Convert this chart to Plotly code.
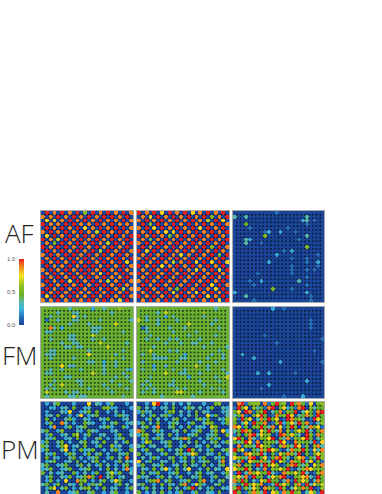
import numpy as np
import plotly.graph_objects as go

# Values are digit/9.
af_1 = """090809080905090809080908 808090809080908090908090 070708090809080908080908 908080909080809080908080
090809080907080908090908 809080908090806090809080 070908090809080908090809 908060908090809080908090
080509080908090806090809 908090908090809080908090 090809080908090609080908 809080909080908090809080
080908090809080908090809 908090809080908090809070 090808090809090809080908 809080908090908090809080
080908090809080709080908 908090809080908090808090 090809070908090806080908 809080908090809090809080
090809080908090809080608 908090809080809080908090 070908090808090809080908 808090809080908090807090""".split()
af_2 = """908090709080907080908090 080709080908090809050809 809080908090809080609070 090509080908090809080908
809070908090809070908090 080908070709080908090809 908090805080908090809080 080508090809080908090809
809080908090809080908090 090809080908090809050908 907090809080908090809080 080908090807080908090509
809080908090809080908090 090809080608090709070907 908090708090809080908090 080908090809080708090709
908090809080908090809080 080908090809080908090809 809080908090809080908090 090809080908090809070908
809080908050908090807090 080908090709080708090809 908090809080908090708090 080908090809080908090709""".split()
af_3 = """000000000001000000000000 300300000000000000030000 000000000000000000230100 000400000000000000010000
000010000000001000000000 000000001200200010000000 000000005000000000030000 000320000000000001000000
000300010000000000000000 000000000000000000050000 000000000000010200000000 000000000002000000000010
000000000000000100010000 000000000200000000010020 000000000000000100000010 000000000000000100010100
000000100000000100000000 000000000000000000010000 000010020000000003000000 000001000000000000010000
000000000050000100000000 200000000000000000020000 000300000000000000001000 000001000000000000001000""".split()
fm_1 = """444444434444424434445444 444434443344444444344444 443444447343444444444444 414434443344444344444443
444444434444344444464444 448342444444433344444444 433444444444433444444344 444444433444464444444444
443444433444434434444444 444443443344444644444434 444444334334444446444444 443344444444344444444344
433344444444744444434444 443444443444444444544344 444444444444334424434444 444447433444444434434444
443443444434444434444432 433444444444464434444344 444444334444444444434434 444344444334444444344443
443446444434444434443444 434344444444344443444434 464444343344444444344444 434444433433444444444344""".split()
fm_2 = """444444444444444444443444 444443464444444445444444 443444424344444443444444 643443444434444444443444
444443444444464444434444 413444443444344444444344 443444444344444344444444 444344444544434444443444
443443443434444434444444 444444434443443344434444 444434444444444443444443 444644443434444444444344
434434444444244444434434 444433334443344444344434 434444444434444434443444 444424434444444644344444
434434444344344444344434 444444464443344434444443 444344444444424444443446 443444444344444434444344
434344443344444443444444 443434444434344444434344 434434444466444434444434 444444344444443444444444""".split()
fm_3 = """000000000020010000000000 000000000000000000000000 000000000000000000000000 000000000000000000001000
000000000000000000001000 000000000000000000001000 000000000000000000000000 000000001000000000000000
000000000000000000000001 000000000001000000000000 000000000000000000000000 000000000000000000000100
002000000000000000000000 000002000000000000000000 000000000000200000000001 000000000000000000000000
000000000000000000000000 000000200200000010000000 000000000000000000000000 000000000000000000020000
000000000200000000000000 000000010000000000000000 000000000000000000000000 000000000000010000200000""".split()
pm_1 = """020340002000703202400020 002202304002300045220002 020003270023404002030200 023040020270234000024320
040200342003200324000230 024008302004320020340023 002800240234000234200420 340025000320432000230002
024002304602400230024003 032400230402003402023400 240034020034023040030240 430024702304002400523002
240003702042340020342004 032400243002403402003240 040320034020234002403080 023400230402034020024032
340023400240302403020340 234002340023400204030282 403023004203024003624003 024003240234840903402300
024020700845020340374002 340240032040243500024030 024703402034502040230024 030080023400340020340020""".split()
pm_2 = """002079020302030002004500 403020230400243030240032 242300024503020403200023 030240342002030400724003
002403020340200342400325 240304002430024003540024 034028003402040232064000 840034200230402340035072
245002304020023400234004 034024300234840020342400 026400234002030402034024 340230024002400320403200
024003402034095030240034 402300240034237400320402 030242003402403024003240 702400320402304023400380
240032400230403204020340 032040372040370020403207 040324002340020340230024 423002403024003240024003
002458034002340048020340 340020403204802742003400 024030204030249030240032 402030402024002400320400""".split()
pm_3 = """089145508149450948417045 194705341890472418905344 470981459034815490374189 348104794018459703484194
519470384947019845301974 403719448015924739481035 871404594380714940538471 349850174943805147493048
140489374501984743095184 794083154790438154794035 435971804543971085443917 081543975410584397140583
947104385974103845941738 401874593041748539041475 754389047148953047814395 139075484390741854937041
580441939475014894350748 744950318054749103587454 190385744931085474930158 573819440374891045783194
849403175944038194750384 314947580139474058193746 591537408541950374849015 940148539075184945037419""".split()

panels = [af_1, af_2, af_3, fm_1, fm_2, fm_3, pm_1, pm_2, pm_3]
row_labels = ["AF", "FM", "PM"]
bar_ticks = [0.0, 0.5, 1.0]
bar_tick_labels = ["0.0", "0.5", "1.0"]

W, H = 382, 494
col_x = [(41, 133), (137, 229), (233, 324)]
row_y = [(211, 302), (307, 398), (402, 494)]
label_y = [233, 355, 449]

scale = [[0, "#1b4598"], [0.1, "#2468b4"], [0.25, "#3db7de"], [0.36, "#5fb79c"],
         [0.45, "#6cb12a"], [0.6, "#93c022"], [0.75, "#f7e61c"], [0.88, "#f58a1f"], [1, "#e4201f"]]

fig = go.Figure()
n = 24
dot_x, dot_y = np.meshgrid(np.arange(0.5, n - 1), np.arange(0.5, n - 1))
for k, rows in enumerate(panels):
    for row in rows:
        if len(row) != n:
            raise ValueError(f"panel {k}: {row} has length {len(row)}")
    z = [[int(ch) / 9 for ch in row] for row in rows]
    s = "" if k == 0 else str(k + 1)
    fig.add_trace(go.Heatmap(z=z, coloraxis="coloraxis", xaxis=f"x{s}", yaxis=f"y{s}", xgap=0, ygap=0))
    fig.add_trace(go.Scatter(x=dot_x.ravel(), y=dot_y.ravel(), mode="markers", xaxis=f"x{s}", yaxis=f"y{s}",
                             marker=dict(symbol="square", size=1.7, color="#0a0a14", opacity=0.75, line_width=0),
                             showlegend=False, hoverinfo="skip"))
    r, c = k // 3, k % 3
    x0, x1 = col_x[c]
    y0, y1 = row_y[r]
    common = dict(showticklabels=False, ticks="", showgrid=False, zeroline=False, showline=True,
                  linecolor="#a8a8a8", linewidth=1, mirror=True)
    fig.update_layout({
        f"xaxis{s}": dict(domain=[x0 / W, x1 / W], range=[-0.5, n - 0.5], anchor=f"y{s}", **common),
        f"yaxis{s}": dict(domain=[1 - y1 / H, 1 - y0 / H], range=[n - 0.5, -0.5], anchor=f"x{s}", **common),
    })

for name, y in zip(row_labels, label_y):
    fig.add_annotation(text=name, xref="paper", yref="paper", x=19.5 / W, y=1 - y / H, showarrow=False,
                       xanchor="center", yanchor="middle",
                       font=dict(family="Open Sans", size=26, color="#231f1c", weight=300))

bar_bottom, bar_len = 325, 66
for v, t in zip(bar_ticks, bar_tick_labels):
    fig.add_annotation(text=t, xref="paper", yref="paper", x=18 / W, y=1 - (bar_bottom - bar_len * v) / H,
                       showarrow=False, xanchor="right", yanchor="middle",
                       font=dict(family="Liberation Sans", size=6, color="#555555"))

fig.update_layout(
    width=W, height=H, margin=dict(l=0, r=0, t=0, b=0), showlegend=False,
    paper_bgcolor="white", plot_bgcolor="white",
    coloraxis=dict(cmin=0, cmax=1, colorscale=scale, colorbar=dict(
        x=19 / W, xanchor="left", xref="paper", y=1 - bar_bottom / H, yanchor="bottom", yref="paper",
        thickness=5, thicknessmode="pixels", len=bar_len, lenmode="pixels",
        tickvals=bar_ticks, showticklabels=False, ticks="",
        outlinewidth=0, borderwidth=0, xpad=0, ypad=0)),
)
fig.write_html("out.html", config={"displayModeBar": False},
               post_script="document.body.style.margin='0';document.body.style.background='white';")
